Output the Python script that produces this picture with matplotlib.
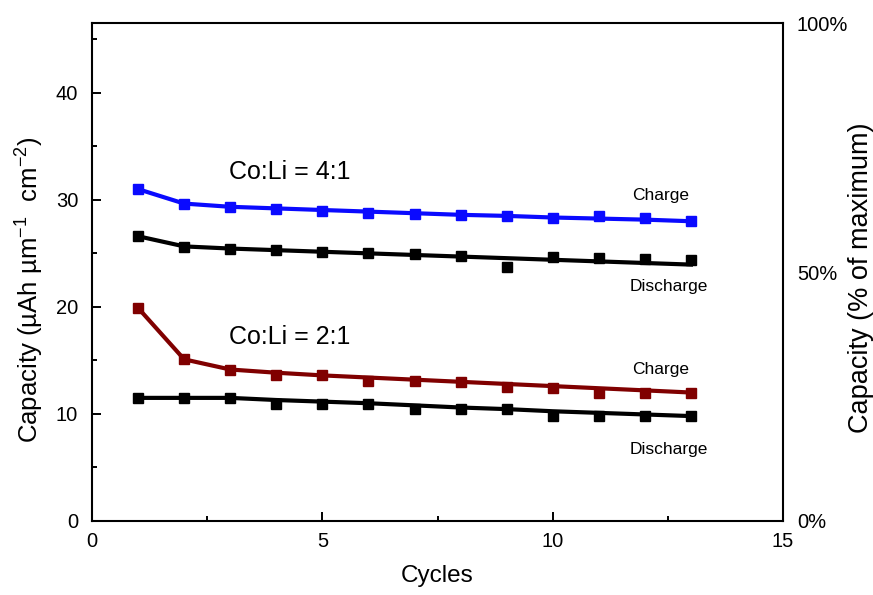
import matplotlib
matplotlib.use('Agg')
import matplotlib.pyplot as plt
from matplotlib.ticker import MultipleLocator

plt.rcParams['font.family'] = ['Liberation Sans', 'DejaVu Sans']
plt.rcParams['mathtext.fontset'] = 'custom'
plt.rcParams['mathtext.rm'] = 'Liberation Sans'
plt.rcParams['mathtext.it'] = 'Liberation Sans:italic'

cycles = [1, 2, 3, 4, 5, 6, 7, 8, 9, 10, 11, 12, 13]

# Co:Li = 4:1
charge41 = [31.0, 29.6, 29.3, 29.1, 29.0, 28.8, 28.7, 28.6, 28.45, 28.3, 28.5, 28.3, 28.0]
charge41_fit = [31.0, 29.65, 29.35, 29.2, 29.05, 28.9, 28.75, 28.6, 28.5, 28.35, 28.25, 28.15, 28.0]
dis41 = [26.6, 25.6, 25.4, 25.3, 25.1, 25.0, 24.95, 24.75, 23.7, 24.7, 24.6, 24.5, 24.4]
dis41_fit = [26.6, 25.65, 25.45, 25.3, 25.15, 25.0, 24.85, 24.7, 24.55, 24.4, 24.25, 24.1, 23.95]

# Co:Li = 2:1
charge21 = [19.9, 15.1, 14.1, 13.6, 13.6, 13.05, 13.05, 13.0, 12.5, 12.45, 11.95, 11.95, 12.0]
charge21_fit = [19.9, 15.1, 14.15, 13.85, 13.6, 13.4, 13.2, 13.0, 12.8, 12.6, 12.4, 12.2, 12.0]
dis21 = [11.5, 11.5, 11.5, 10.9, 10.9, 10.9, 10.45, 10.45, 10.45, 9.8, 9.8, 9.8, 9.8]
dis21_fit = [11.5, 11.5, 11.5, 11.3, 11.15, 11.0, 10.8, 10.6, 10.45, 10.25, 10.1, 9.95, 9.8]

pct_ticks = [0, 50, 100]
pct_labels = ['0%', '50%', '100%']

fig = plt.figure(figsize=(8.73, 5.95), dpi=100)
ax = fig.add_axes([0.1054, 0.1244, 0.7916, 0.8366])

blue = '#0a0aff'
red = '#800000'
lw = 3
ms = 7

ax.plot(cycles, charge41_fit, color=blue, lw=lw)
ax.plot(cycles, charge41, 's', color=blue, ms=ms)
ax.plot(cycles, dis41_fit, color='black', lw=lw)
ax.plot(cycles, dis41, 's', color='black', ms=ms)
ax.plot(cycles, charge21_fit, color=red, lw=lw)
ax.plot(cycles, charge21, 's', color=red, ms=ms)
ax.plot(cycles, dis21_fit, color='black', lw=lw)
ax.plot(cycles, dis21, 's', color='black', ms=ms)

ax.text(4.3, 32.6, 'Co:Li = 4:1', fontsize=18, ha='center', va='center')
ax.text(4.3, 17.2, 'Co:Li = 2:1', fontsize=18, ha='center', va='center')
ax.text(12.35, 30.45, 'Charge', fontsize=12.5, ha='center', va='center')
ax.text(12.53, 21.95, 'Discharge', fontsize=12.5, ha='center', va='center')
ax.text(12.35, 14.12, 'Charge', fontsize=12.5, ha='center', va='center')
ax.text(12.53, 6.72, 'Discharge', fontsize=12.5, ha='center', va='center')

ax.set_xlim(0, 15)
ax.set_ylim(0, 46.5)
ax.xaxis.set_major_locator(MultipleLocator(5))
ax.xaxis.set_minor_locator(MultipleLocator(2.5))
ax.yaxis.set_major_locator(MultipleLocator(10))
ax.yaxis.set_minor_locator(MultipleLocator(5))
ax.tick_params(which='both', direction='in', left=True, right=True, top=False, width=1.4)
ax.tick_params(which='major', length=6.5, labelsize=14.5)
ax.tick_params(axis='y', which='major', pad=10)
ax.tick_params(axis='x', which='major', pad=8)
ax.tick_params(which='minor', length=3.5)
for s in ax.spines.values():
    s.set_linewidth(1.5)

ax.set_xlabel('Cycles', fontsize=17.5)
ax.xaxis.set_label_coords(0.5, -0.088)
ax.set_ylabel('Capacity (µAh µm$^{\\mathregular{-1}}$  cm$^{\\mathregular{-2}}$)', fontsize=18.5)
ax.yaxis.set_label_coords(-0.067, 0.464)

ax2 = ax.twinx()
ax2.set_ylim(0, 100)
ax2.set_yticks(pct_ticks)
ax2.set_yticklabels(pct_labels)
ax2.tick_params(axis='y', length=0, labelsize=14.5, pad=10)
ax2.set_ylabel('Capacity (% of maximum)', fontsize=19.5)
ax2.yaxis.set_label_coords(1.094, 0.488)
for s in ax2.spines.values():
    s.set_visible(False)

fig.savefig('out.png', dpi=100)
